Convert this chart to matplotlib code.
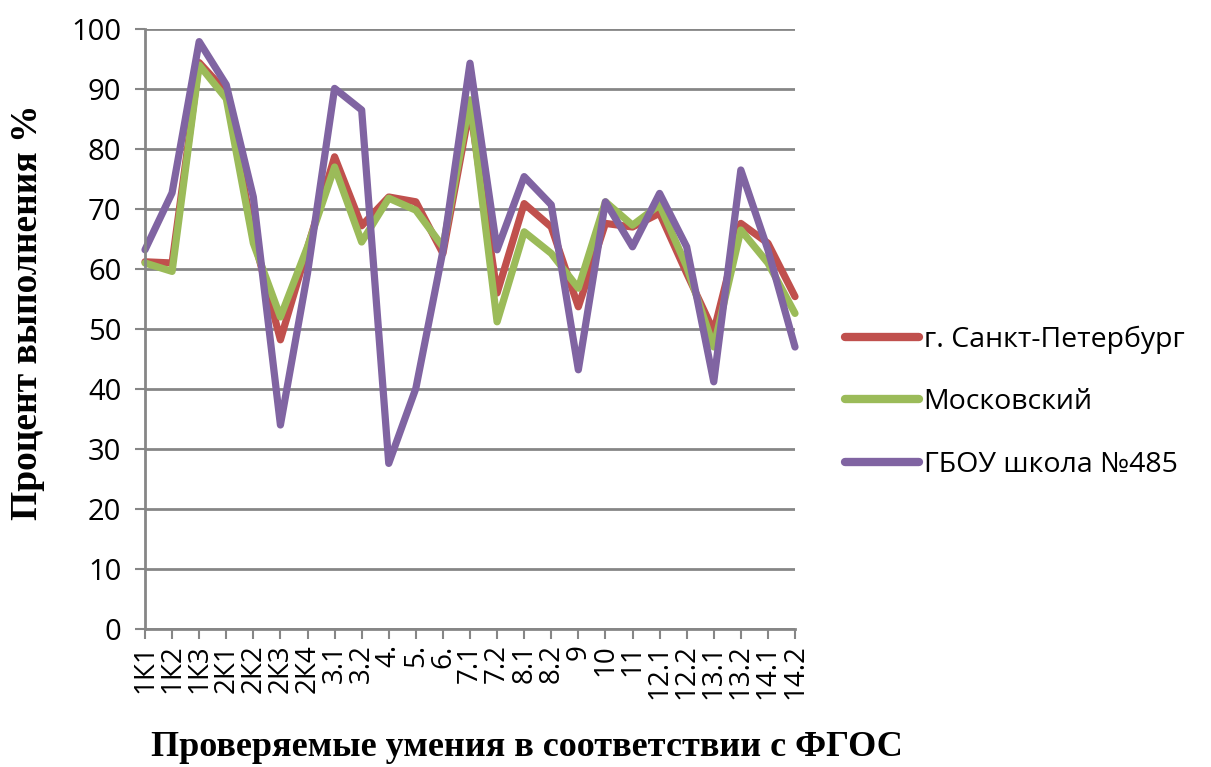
import matplotlib.pyplot as plt

# категории (проверяемые умения)
kategorii = ['1К1', '1К2', '1К3', '2К1', '2К2', '2К3', '2К4', '3.1', '3.2', '4.', '5.', '6.',
             '7.1', '7.2', '8.1', '8.2', '9', '10', '11', '12.1', '12.2', '13.1', '13.2', '14.1', '14.2']

spb = [61.2, 61.0, 94.4, 89.5, 65.4, 48.2, 63.5, 78.7, 67.2, 72.0, 71.2, 62.6,
       87.0, 56.0, 70.9, 67.0, 53.7, 67.6, 67.0, 69.3, 59.3, 49.6, 67.6, 64.3, 55.4]
moskovsky = [61.0, 59.6, 94.0, 88.4, 64.3, 52.0, 63.7, 77.0, 64.5, 71.8, 69.8, 63.7,
             88.2, 51.2, 66.2, 62.6, 56.8, 71.2, 67.3, 70.7, 60.4, 47.0, 66.5, 61.0, 52.6]
shkola = [63.2, 72.7, 97.9, 90.7, 72.0, 34.0, 59.3, 90.1, 86.5, 27.6, 40.1, 63.0,
          94.3, 63.2, 75.4, 70.7, 43.2, 71.2, 63.7, 72.6, 63.7, 41.2, 76.5, 63.2, 47.0]

cor_seriya = ['#C0504D', '#9BBB59', '#8064A2']
nazvaniya = ['г. Санкт-Петербург', 'Московский', 'ГБОУ школа №485']

fig = plt.figure(figsize=(12.11, 7.67), dpi=100)
ax = fig.add_axes([145 / 1211, 1 - 629 / 767, 650 / 1211, 600 / 767])

x = list(range(len(kategorii)))
for dados, cor, nome in zip([spb, moskovsky, shkola], cor_seriya, nazvaniya):
    ax.plot(x, dados, color=cor, linewidth=5.2, label=nome,
            solid_joinstyle='round', solid_capstyle='round', clip_on=False)

cinza = '#868686'
ax.set_xlim(0, len(kategorii) - 1)
ax.set_ylim(0, 100)
ax.set_yticks(range(0, 101, 10))
ax.grid(axis='y', color=cinza, linewidth=2)
ax.set_axisbelow(True)
for lado in ['top', 'right']:
    ax.spines[lado].set_visible(False)
for lado in ['left', 'bottom']:
    ax.spines[lado].set_color(cinza)
    ax.spines[lado].set_linewidth(2)
ax.tick_params(axis='both', color=cinza, width=1.5, length=7, direction='out')
ax.set_xticks(x)
ax.set_xticklabels(kategorii, rotation=90, fontsize=20, fontfamily='Open Sans')
for rotulo in ax.get_yticklabels():
    rotulo.set_fontsize(21)
    rotulo.set_fontfamily('Open Sans')
ax.tick_params(axis='y', pad=10)
ax.tick_params(axis='x', pad=4)

fig.text(28 / 1211, 1 - 312 / 767, 'Процент выполнения %', rotation=90,
         fontsize=27, fontweight='bold', fontfamily='Liberation Serif',
         ha='center', va='center')
fig.text(527 / 1211, 1 - 748 / 767, 'Проверяемые умения в соответствии с ФГОС',
         fontsize=26, fontweight='bold', fontfamily='Liberation Serif',
         ha='center', va='center')

leg = ax.legend(loc='center left', bbox_to_anchor=(1.06, 0.378), frameon=False,
                prop={'family': 'Open Sans', 'size': 20.5}, handlelength=2.6,
                handletextpad=0.15, labelspacing=1.2, borderaxespad=0)
for linha in leg.get_lines():
    linha.set_linewidth(6)
    linha.set_solid_capstyle('round')

fig.savefig('out.png', dpi=100)
